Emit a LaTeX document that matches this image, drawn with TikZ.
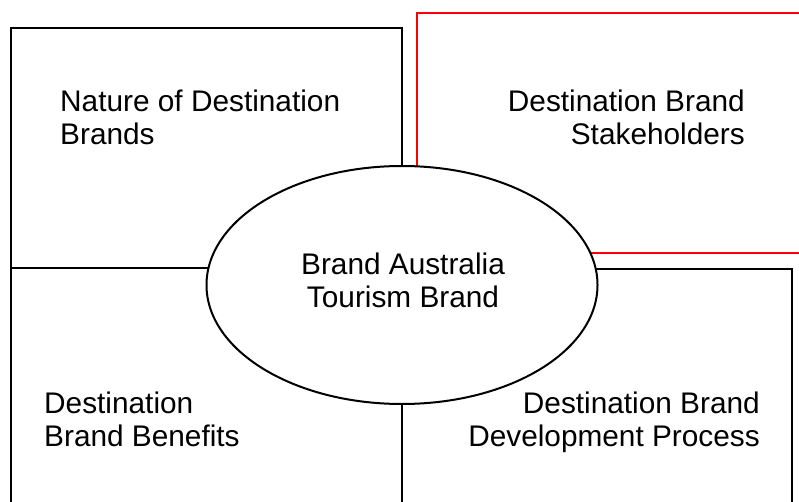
\documentclass[tikz,border=0pt]{standalone}
\usepackage{fontspec}
\setmainfont{Liberation Sans}
\usetikzlibrary{shapes.geometric,backgrounds}
\tikzset{
  lab/.style={inner sep=0pt, font=\fontsize{29.8}{33}\selectfont},
  hub/.style={ellipse, draw, fill=white, inner sep=0pt,
    minimum width=391pt, minimum height=238pt, line width=2pt},
  quad/.style={line width=2pt}
}
\begin{document}
\begin{tikzpicture}[x=1pt, y=-1pt]
      \useasboundingbox (0,0) rectangle (799,502);
      \draw
        (402,285) node[hub] (hub){}
        (403,307) node[lab, align=center, anchor=base] (brand){Brand Australia\\Tourism Brand}
        (60,145) node[lab, align=left, anchor=base west] (nature){Nature of Destination\\Brands}
        (745,145) node[lab, align=right, anchor=base east] (stake){Destination Brand\\Stakeholders}
        (44,446) node[lab, align=left, anchor=base west] (benefit){Destination\\Brand Benefits}
        (760,446) node[lab, align=right, anchor=base east] (process){Destination Brand\\Development Process};
      \begin{scope}[on background layer={quad}]
        \draw (hub.north) |- (11,28) -- (11,502);
        \draw (11,268) -- (hub.center |- 0,268);
        \draw (hub.south) -- (402,502);
        \draw (hub.center |- 0,269) -| (792,502);
        \draw[red] (800,253) -| (417,13) -- (800,13);
      \end{scope}
    \end{tikzpicture}
\end{document}
